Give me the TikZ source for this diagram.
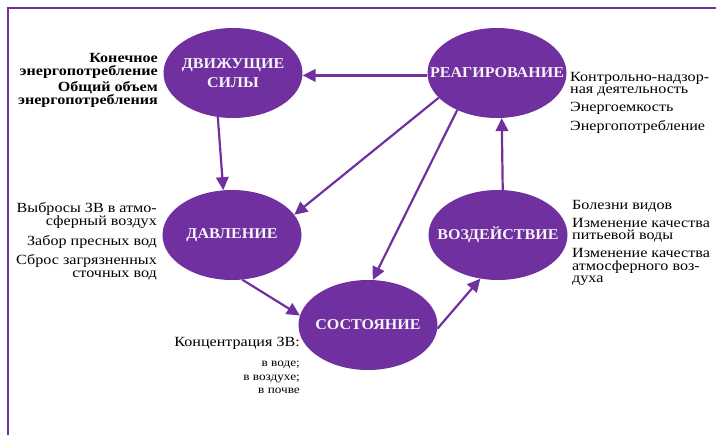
\documentclass[tikz,border=0pt]{standalone}
\usepackage{fontspec}
\setmainfont{Liberation Serif}[FakeStretch=1.15]
\newfontfamily\headfont{Liberation Serif}[FakeStretch=1.07]
\usepackage{xcolor}
\definecolor{dpsir}{HTML}{7030A0}
\usetikzlibrary{shapes,arrows.meta,positioning}

\begin{document}
\begin{tikzpicture}[x=1pt, y=-1pt,
    stage/.style={ellipse, fill=dpsir, minimum width=139pt, minimum height=90pt,
        inner xsep=-30pt, inner ysep=-12pt, align=center, text=white!94!dpsir,
        font=\headfont\fontsize{15}{19}\selectfont\bfseries},
    note/.style={inner sep=0pt, font=\fontsize{14}{12.5}\selectfont},
    link/.style={draw=dpsir, line width=2.2pt, -{Triangle[length=13pt,width=12.5pt]}}]
    \useasboundingbox (0,0) rectangle (716,435);
    % frame
    \draw[dpsir, line width=2pt] (8,435) -- (8,8) -- (716,8);

    % stages
    \node[stage] (drive)  at (233,73)  {ДВИЖУЩИЕ\\СИЛЫ};
    \node[stage] (react)  at (497,73)  {РЕАГИРОВАНИЕ};
    \node[stage] (press)  at (232,235) {ДАВЛЕНИЕ};
    \node[stage] (impact) at (498,235) {ВОЗДЕЙСТВИЕ};
    \node[stage] (state)  at (368,325) {СОСТОЯНИЕ};

    % indicators
    \node[note, anchor=north east, align=right, font=\fontsize{14}{13}\selectfont\bfseries]
        (drive-ind) at (158,53) {Конечное\\энергопотребление\\[2.5pt]Общий объем\\энергопотребления};
    \node[note, anchor=north west, align=left] (react-ind) at (570,72)
        {Контрольно-надзор-\\ная деятельность\\[5.5pt]Энергоемкость\\[5pt]Энергопотребление};
    \node[note, anchor=north east, align=right] (press-ind) at (157,202)
        {Выбросы ЗВ в атмо-\\сферный воздух\\[5.5pt]Забор пресных вод\\[5.5pt]Сброс загрязненных\\сточных вод};
    \node[note, anchor=north west, align=left] (impact-ind) at (572,200)
        {Болезни видов\\[5.5pt]Изменение качества\\питьевой воды\\[5.5pt]Изменение качества\\атмосферного воз-\\духа};
    \node[note, anchor=base east] (state-ind) at (300,347) {Концентрация ЗВ:};
    \node[note, anchor=north east, align=right, font=\fontsize{11.5}{13.5}\selectfont]
        (state-sub) at (300,361) {в воде;\\в воздухе;\\в почве};

    % links
    \draw[link] (react.182) -- (drive.358);
    \draw[link] (drive.251) -- (press.101);
    \draw[link] (react.203) -- (press.18);
    \draw[link] (react.223) -- (state.84);
    \draw[link] (press.283) -- (state.172);
    \draw[link] (state.357) -- (impact.248);
    \draw[link] (impact.84) -- (react.276);
\end{tikzpicture}
\end{document}
